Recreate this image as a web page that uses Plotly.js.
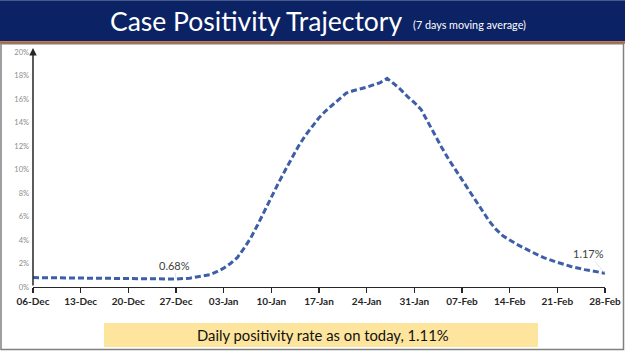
<!DOCTYPE html>
<html><head><meta charset="utf-8">
<script src="https://cdn.plot.ly/plotly-3.0.1.min.js"></script>
<style>html,body{margin:0;padding:0;background:#fff;}#chart{width:625px;height:351px;}</style>
</head><body><div id="chart"></div>
<script>
const dates = ['2021-12-06','2021-12-10','2021-12-13','2021-12-17','2021-12-20','2021-12-23','2021-12-27','2021-12-29','2021-12-31',
'2022-01-01','2022-01-02','2022-01-03','2022-01-04','2022-01-05','2022-01-06','2022-01-07','2022-01-08','2022-01-09','2022-01-10',
'2022-01-11','2022-01-12','2022-01-13','2022-01-14','2022-01-15','2022-01-16','2022-01-17','2022-01-18','2022-01-19','2022-01-20',
'2022-01-21','2022-01-22','2022-01-24','2022-01-26','2022-01-27','2022-01-28','2022-01-29','2022-01-30','2022-01-31',
'2022-02-01','2022-02-02','2022-02-03','2022-02-04','2022-02-05','2022-02-06','2022-02-07','2022-02-08','2022-02-09','2022-02-10',
'2022-02-11','2022-02-12','2022-02-13','2022-02-14','2022-02-15','2022-02-17','2022-02-19','2022-02-21','2022-02-23','2022-02-25','2022-02-28'];
const positivity = [0.80,0.77,0.74,0.71,0.68,0.65,0.68,0.75,0.92,
1.05,1.30,1.60,2.00,2.50,3.30,4.20,5.30,6.50,7.70,
8.80,9.90,11.0,12.0,12.9,13.7,14.4,15.0,15.5,16.0,
16.5,16.7,17.0,17.4,17.75,17.3,16.8,16.2,15.7,
15.1,14.0,13.0,11.9,10.9,10.0,9.1,8.2,7.3,6.4,
5.6,4.9,4.35,4.0,3.65,3.05,2.5,2.1,1.75,1.48,1.17];
const tickDates = ['2021-12-06','2021-12-13','2021-12-20','2021-12-27','2022-01-03','2022-01-10','2022-01-17','2022-01-24','2022-01-31','2022-02-07','2022-02-14','2022-02-21','2022-02-28'];
const tickLabels = ['06-Dec','13-Dec','20-Dec','27-Dec','03-Jan','10-Jan','17-Jan','24-Jan','31-Jan','07-Feb','14-Feb','21-Feb','28-Feb'];
const yTicks = [0,2,4,6,8,10,12,14,16,18,20];
const yTickLabels = ['0%','2%','4%','6%','8%','10%','12%','14%','16%','18%','20%'];
const titleText = 'Case Positivity Trajectory';
const subtitleText = '(7 days moving average)';
const footerText = 'Daily positivity rate as on today, 1.11%';
const labelPoints = [{date:'2021-12-27', value:0.68, text:'0.68%'},{date:'2022-02-28', value:1.17, text:'1.17%'}];

const W=625,H=351, L=33, R=605, T=51.7, B=287;
const px = x => (x-L)/(R-L);
const py = y => (B-y)/(B-T);

const trace = {x:dates, y:positivity, type:'scatter', mode:'lines',
  line:{color:'#3d5ea8', width:3, dash:'6px,3px'}, hoverinfo:'skip'};

const shapes = [
  {type:'rect', xref:'paper', yref:'paper', x0:px(0), x1:px(W), y0:py(0), y1:py(41), fillcolor:'#0b2265', line:{width:0}, layer:'below'},
  {type:'rect', xref:'paper', yref:'paper', x0:px(0), x1:px(W), y0:py(41), y1:py(43.5), fillcolor:'#c0622b', line:{width:0}, layer:'below'},
  {type:'rect', xref:'paper', yref:'paper', x0:px(1), x1:px(623.5), y0:py(43.5), y1:py(349.5), fillcolor:'rgba(0,0,0,0)', line:{color:'#808080', width:1.5}, layer:'below'},
  {type:'rect', xref:'paper', yref:'paper', x0:px(104), x1:px(538), y0:py(323), y1:py(347), fillcolor:'#fde59d', line:{width:0}, layer:'below'}
];

const annotations = [
  {xref:'paper', yref:'paper', x:px(405), y:py(21), xanchor:'right', yanchor:'middle', text:titleText, showarrow:false,
   font:{family:'Lato', size:26.5, color:'#ffffff'}},
  {xref:'paper', yref:'paper', x:px(411), y:py(24), xanchor:'left', yanchor:'middle', text:subtitleText, showarrow:false,
   font:{family:'Lato', size:10.8, color:'#ffffff'}},
  {xref:'paper', yref:'paper', x:px(323), y:py(335), xanchor:'center', yanchor:'middle', text:footerText, showarrow:false,
   font:{family:'Lato', size:14.8, color:'#111111'}},
  {x:dates[0], y:20.35, ax:dates[0], ay:0, xref:'x', yref:'y', axref:'x', ayref:'y', text:'', showarrow:true,
   arrowhead:2, arrowsize:1, arrowwidth:1.5, arrowcolor:'#262626'}
];
annotations.push({x:labelPoints[0].date, y:labelPoints[0].value, text:labelPoints[0].text, showarrow:true, ax:-2, ay:-14,
  arrowhead:0, arrowwidth:0.6, arrowcolor:'#c8d2e6', font:{family:'Lato', size:11, color:'#404040'}});
annotations.push({x:labelPoints[1].date, y:labelPoints[1].value, text:labelPoints[1].text, showarrow:true, ax:-17, ay:-20,
  arrowhead:0, arrowwidth:0.6, arrowcolor:'#c8d2e6', font:{family:'Lato', size:11, color:'#404040'}});

const layout = {
  width:W, height:H, paper_bgcolor:'#ffffff', plot_bgcolor:'rgba(0,0,0,0)',
  margin:{l:L, r:W-R, t:T, b:H-B, pad:0},
  showlegend:false,
  xaxis:{type:'date', range:['2021-12-06','2022-02-28'], tickmode:'array', tickvals:tickDates, ticktext:tickLabels,
    showgrid:false, zeroline:false, showline:true, linecolor:'#262626', linewidth:1.2,
    ticks:'outside', ticklen:5, tickcolor:'#262626', tickwidth:1.2,
    tickfont:{family:'Lato', size:10, color:'#262626', weight:'bold'}},
  yaxis:{range:[0,20], tickmode:'array', tickvals:yTicks, ticktext:yTickLabels, showgrid:false, zeroline:false,
    showline:false, ticks:'', ticklabelstandoff:3,
    tickfont:{family:'Lato', size:7.5, color:'#8c8c8c'}},
  shapes:shapes, annotations:annotations
};
Plotly.newPlot('chart',[trace],layout,{displayModeBar:false, staticPlot:true});
</script></body></html>
